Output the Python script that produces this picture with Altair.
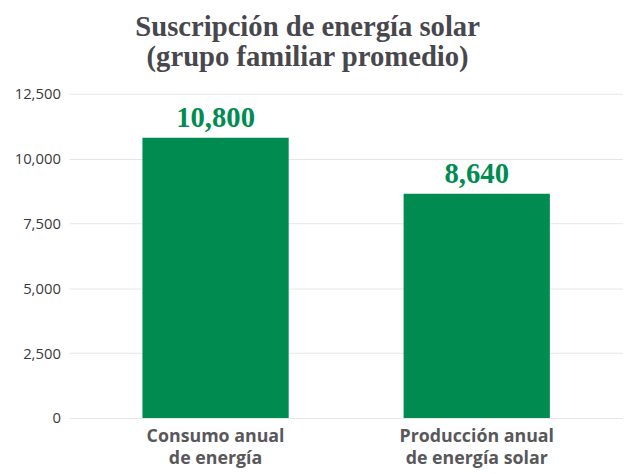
import altair as alt
import pandas as pd

categories = ["Consumo anual|de energía", "Producción anual|de energía solar"]
values = [10800, 8640]
y_ticks = [0, 2500, 5000, 7500, 10000, 12500]

df = pd.DataFrame({"cat": categories, "val": values})

green = "#008c51"

base = alt.Chart(df).encode(
    x=alt.X(
        "cat:N",
        sort=categories,
        title=None,
        scale=alt.Scale(paddingInner=0.44, paddingOuter=0.28),
        axis=alt.Axis(
            labelExpr="split(datum.label, '|')",
            labelAngle=0,
            labelFont="Open Sans",
            labelFontWeight="bold",
            labelFontSize=18,
            labelColor="#58585b",
            labelLineHeight=22,
            labelPadding=10,
            ticks=False,
            domain=False,
            grid=False,
        ),
    ),
    y=alt.Y(
        "val:Q",
        title=None,
        scale=alt.Scale(domain=[0, 12500], nice=False),
        axis=alt.Axis(
            values=y_ticks,
            format=",.0f",
            labelFont="Open Sans",
            labelFontSize=15,
            labelColor="#3a3a3a",
            labelPadding=9,
            ticks=False,
            domain=False,
            grid=True,
            gridColor="#e6e6e6",
            gridWidth=1,
        ),
    ),
)

bars = base.mark_bar(color=green)
labels = base.mark_text(
    baseline="alphabetic",
    dy=-11,
    font="Liberation Serif",
    fontWeight="bold",
    fontSize=29,
    color=green,
).encode(text=alt.Text("val:Q", format=",.0f"))

chart = (
    alt.layer(bars, labels)
    .properties(
        width=560,
        height=328,
        title=alt.TitleParams(
            text=["Suscripción de energía solar", "(grupo familiar promedio)"],
            font="Liberation Serif",
            fontWeight="bold",
            fontSize=29,
            color="#47474d",
            lineHeight=30,
            anchor="middle",
            dx=-39,
            offset=15,
        ),
        autosize=alt.AutoSizeParams(type="none"),
        padding={"left": 62, "top": 84, "right": 0, "bottom": 62},
    )
    .configure_view(stroke=None)
)

chart.save("out.html", embed_options={"renderer": "svg", "actions": False})
